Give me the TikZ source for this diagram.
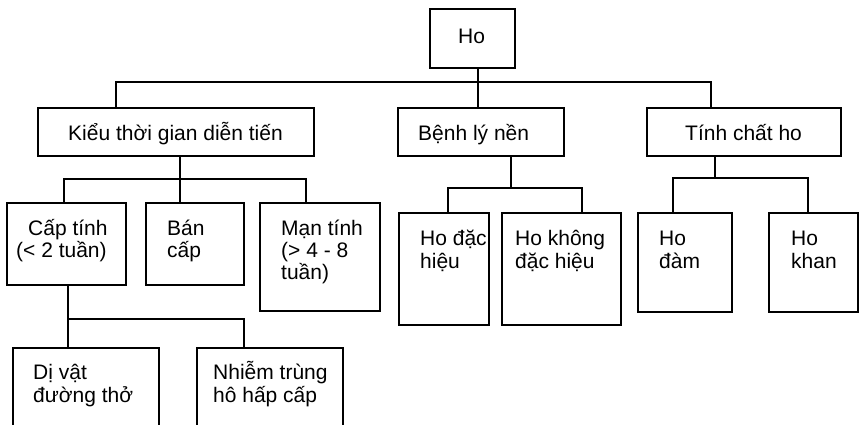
\documentclass[tikz,border=0pt]{standalone}
\usepackage{fontspec}
\setmainfont{Liberation Sans}
\begin{document}
\begin{tikzpicture}[x=1pt,y=-1pt,
  box/.style={draw,line width=1.8pt,rectangle,inner sep=0pt},
  conn/.style={line width=1.8pt},
  lbl/.style={anchor=base west,inner sep=0pt,font=\fontsize{21}{22.5}\selectfont}]
\useasboundingbox (0,0) rectangle (860,424);
\clip (0,0) rectangle (860,424);
% boxes
\node[box,minimum width=85pt,minimum height=59pt] (ho) at (472.5,38.5) {};
\node[box,minimum width=276pt,minimum height=48pt] (kieu) at (176,132) {};
\node[box,minimum width=166pt,minimum height=48pt] (benh) at (481,132) {};
\node[box,minimum width=194pt,minimum height=48pt] (tinh) at (744,132) {};
\node[box,minimum width=119pt,minimum height=82pt] (cap) at (66.5,244) {};
\node[box,minimum width=98pt,minimum height=82pt] (ban) at (195,244) {};
\node[box,minimum width=120pt,minimum height=108pt] (man) at (320,257) {};
\node[box,minimum width=146pt,minimum height=92pt] (div) at (86,394) {};
\node[box,minimum width=146pt,minimum height=92pt] (nhiem) at (270,394) {};
\node[box,minimum width=90pt,minimum height=112pt] (hodh) at (444,269) {};
\node[box,minimum width=119pt,minimum height=112pt] (hokdh) at (561.5,269) {};
\node[box,minimum width=94pt,minimum height=99pt] (hodam) at (685,262.5) {};
\node[box,minimum width=89pt,minimum height=99pt] (hokhan) at (813.5,262.5) {};
% texts
\node[lbl] (t-ho) at (458,43) {Ho};
\node[lbl] (t-kieu) at (68,140) {Kiểu thời gian diễn tiến};
\node[lbl] (t-benh) at (418,140) {Bệnh lý nền};
\node[lbl] (t-tinh) at (685,140) {Tính chất ho};
\node[lbl] (t-cap1) at (28,235) {Cấp tính};
\node[lbl] (t-cap2) at (16,257) {(< 2 tuần)};
\node[lbl] (t-ban1) at (167,235) {Bán};
\node[lbl] (t-ban2) at (167,257) {cấp};
\node[lbl] (t-man1) at (281,235) {Mạn tính};
\node[lbl] (t-man2) at (281,257) {(> 4 - 8};
\node[lbl] (t-man3) at (281,279) {tuần)};
\node[lbl] (t-div1) at (33,379) {Dị vật};
\node[lbl] (t-div2) at (33,402) {đường thở};
\node[lbl] (t-nh1) at (213,379) {Nhiễm trùng};
\node[lbl] (t-nh2) at (213,402) {hô hấp cấp};
\node[lbl] (t-hodh1) at (420,245) {Ho đặc};
\node[lbl] (t-hodh2) at (420,268) {hiệu};
\node[lbl] (t-hokdh1) at (515,245) {Ho không};
\node[lbl] (t-hokdh2) at (515,268) {đặc hiệu};
\node[lbl] (t-hodam1) at (659,245) {Ho};
\node[lbl] (t-hodam2) at (659,268) {đàm};
\node[lbl] (t-hokhan1) at (791,245) {Ho};
\node[lbl] (t-hokhan2) at (791,268) {khan};
% junction coordinates
\coordinate (b1L) at (116,82); \coordinate (b1M) at (478,82); \coordinate (b1R) at (711,82);
\coordinate (b2L) at (64,179); \coordinate (b2M) at (180,179); \coordinate (b2R) at (306,179);
\coordinate (b3L) at (68,319); \coordinate (b3R) at (244,319);
\coordinate (b4L) at (448,188); \coordinate (b4M) at (511,188); \coordinate (b4R) at (582,188);
\coordinate (b5L) at (673,178); \coordinate (b5M) at (715,178); \coordinate (b5R) at (808,178);
% connectors
\draw[conn] (ho.south -| b1M) -- (benh.north -| b1M);
\draw[conn] (kieu.north -| b1L) -- (b1L) -- (b1R) -- (tinh.north -| b1R);
\draw[conn] (kieu.south -| b2M) -- (ban.north -| b2M);
\draw[conn] (cap.north -| b2L) -- (b2L) -- (b2R) -- (man.north -| b2R);
\draw[conn] (cap.south -| b3L) -- (div.north -| b3L);
\draw[conn] (b3L) -- (b3R) -- (nhiem.north -| b3R);
\draw[conn] (benh.south -| b4M) -- (b4M);
\draw[conn] (hodh.north -| b4L) -- (b4L) -- (b4R) -- (hokdh.north -| b4R);
\draw[conn] (tinh.south -| b5M) -- (b5M);
\draw[conn] (hodam.north -| b5L) -- (b5L) -- (b5R) -- (hokhan.north -| b5R);
\end{tikzpicture}
\end{document}
